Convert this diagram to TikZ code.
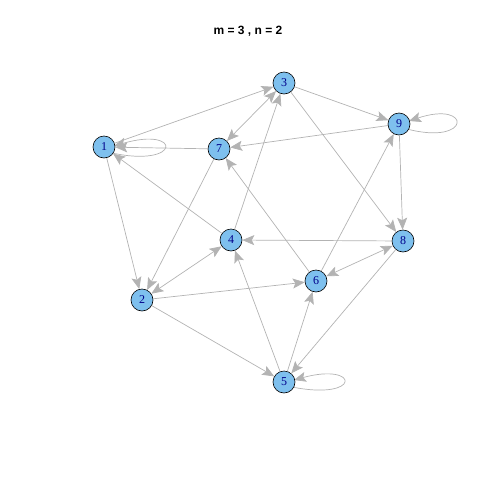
\documentclass[tikz,border=0pt]{standalone}
\usepackage{fontspec}
\setmainfont{Liberation Serif}
\newfontfamily\titlefont{Liberation Sans}
\usetikzlibrary{arrows.meta}
\definecolor{nodefill}{RGB}{126,192,238}
\definecolor{edgegray}{RGB}{179,179,179}
\definecolor{labelblue}{RGB}{0,0,139}
\tikzset{
  vtx/.style={circle,draw=black,line width=0.6pt,fill=nodefill,minimum size=22pt,inner sep=0pt,text=labelblue,font=\fontsize{12}{12}\selectfont},
  tip/.tip={Stealth[length=12pt,width=10pt,inset=2.5pt]},
  edge/.style={draw=edgegray,line width=0.7pt,-tip},
  bedge/.style={draw=edgegray,line width=0.7pt,tip-tip}
}
\begin{document}
\begin{tikzpicture}[x=1pt,y=-1pt]
\useasboundingbox (0,0) rectangle (480,480);
\node[font=\titlefont\bfseries\fontsize{12}{12}\selectfont] (title) at (248,31) {m = 3 , n = 2};
% loops first (under nodes)
\coordinate (l1a) at (112,153);
\coordinate (l1b) at (114,146);
\draw[edge] (l1a) .. controls (182,168) and (182,126) .. (l1b);
\coordinate (l9a) at (407,129);
\coordinate (l9b) at (409,121);
\draw[edge] (l9a) .. controls (472,146) and (472,100) .. (l9b);
\coordinate (l5a) at (292,387);
\coordinate (l5b) at (294,380);
\draw[edge] (l5a) .. controls (362,401) and (360,362) .. (l5b);
% nodes
\node[vtx] (n1) at (104,147) {1};
\node[vtx] (n2) at (142,300) {2};
\node[vtx] (n3) at (284,83) {3};
\node[vtx] (n4) at (231,240) {4};
\node[vtx] (n5) at (284,382) {5};
\node[vtx] (n6) at (316,281) {6};
\node[vtx] (n7) at (219,149) {7};
\node[vtx] (n8) at (403,241) {8};
\node[vtx] (n9) at (399,124) {9};
% edges
\draw[edge] (n1) -- (n3);
\draw[edge] (n1) -- (n2);
\draw[edge] (n7) -- (n1);
\draw[edge] (n4) -- (n1);
\draw[bedge] (n3) -- (n7);
\draw[edge] (n4) -- (n3);
\draw[edge] (n3) -- (n9);
\draw[edge] (n3) -- (n8);
\draw[edge] (n9) -- (n7);
\draw[edge] (n9) -- (n8);
\draw[edge] (n6) -- (n9);
\draw[edge] (n7) -- (n2);
\draw[bedge] (n2) -- (n4);
\draw[edge] (n2) -- (n6);
\draw[edge] (n2) -- (n5);
\draw[edge] (n8) -- (n4);
\draw[edge] (n6) -- (n7);
\draw[bedge] (n6) -- (n8);
\draw[edge] (n8) -- (n5);
\draw[edge] (n5) -- (n6);
\draw[edge] (n5) -- (n4);
\end{tikzpicture}
\end{document}
